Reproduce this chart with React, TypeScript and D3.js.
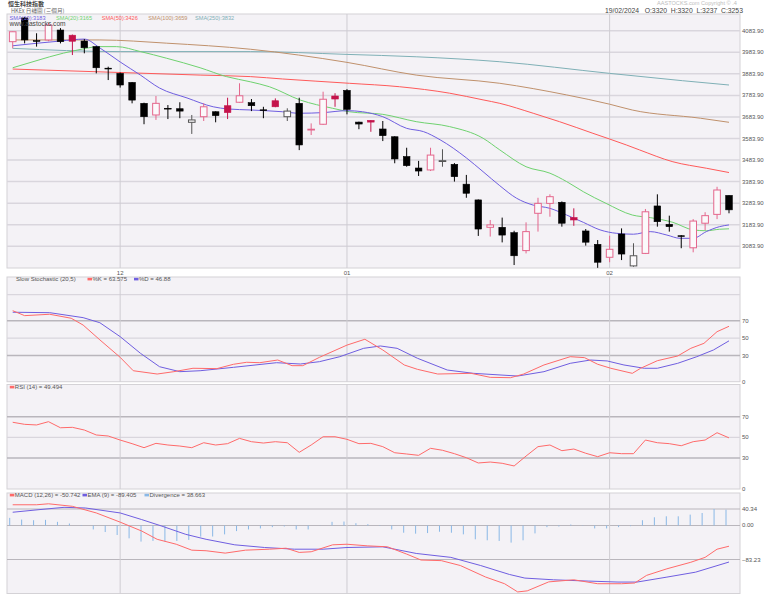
import React from "react";
import * as d3 from "d3";

// ---------------- DATA ----------------
const dates = [
  "2023-11-20","2023-11-21","2023-11-22","2023-11-23","2023-11-24","2023-11-27","2023-11-28","2023-11-29","2023-11-30",
  "2023-12-01","2023-12-04","2023-12-05","2023-12-06","2023-12-07","2023-12-08","2023-12-11","2023-12-12","2023-12-13","2023-12-14","2023-12-15","2023-12-18","2023-12-19","2023-12-20","2023-12-21","2023-12-22","2023-12-27","2023-12-28","2023-12-29",
  "2024-01-02","2024-01-03","2024-01-04","2024-01-05","2024-01-08","2024-01-09","2024-01-10","2024-01-11","2024-01-12","2024-01-15","2024-01-16","2024-01-17","2024-01-18","2024-01-19","2024-01-22","2024-01-23","2024-01-24","2024-01-25","2024-01-26","2024-01-29","2024-01-30","2024-01-31",
  "2024-02-01","2024-02-02","2024-02-05","2024-02-06","2024-02-07","2024-02-08","2024-02-09","2024-02-14","2024-02-15","2024-02-16","2024-02-19",
];
const opens = [4033,4143,4038,4041,4087,4063,4036,4010,3910,3886,3844,3747,3693,3724,3722,3659,3685,3708,3736,3752,3750,3717,3759,3685,3747,3625,3650,3781,3807,3660,3668,3628,3592,3500,3447,3438,3479,3464,3372,3299,3172,3172,3147,3064,3237,3283,3288,3217,3155,3093,3033,3141,2993,3051,3271,3186,3133,3077,3191,3232,3320];
const highs = [4080,4147,4072,4120,4096,4066,4045,4012,3917,3890,3846,3750,3781,3739,3752,3693,3747,3710,3773,3840,3767,3731,3770,3724,3773,3654,3801,3794,3813,3662,3669,3665,3594,3541,3480,3541,3534,3470,3415,3301,3206,3217,3156,3195,3309,3325,3292,3260,3164,3113,3133,3167,3098,3257,3325,3226,3136,3210,3242,3360,3320];
const lows = [4002,4025,4010,4035,4025,3971,3979,3886,3855,3820,3747,3650,3670,3674,3678,3605,3665,3659,3674,3750,3711,3678,3729,3665,3530,3600,3647,3731,3696,3627,3615,3572,3469,3453,3410,3433,3453,3384,3309,3132,3129,3102,2997,3051,3152,3221,3175,3179,3087,2984,3010,3020,2989,3048,3175,3152,3075,3056,3159,3210,3237];
const closes = [4079,4041,4036,4110,4033,4035,4005,3912,3908,3832,3762,3685,3747,3722,3711,3670,3731,3690,3704,3782,3736,3715,3731,3711,3554,3627,3766,3767,3719,3651,3660,3597,3489,3458,3433,3507,3481,3407,3330,3164,3183,3136,3040,3152,3283,3314,3191,3206,3103,3010,3070,3048,3040,3244,3198,3175,3131,3201,3226,3345,3253];

// moving averages: [candle index, value]
const sma10 = [[0,4014],[4,4036],[6,4045],[7.3,4004],[9,3939],[10.7,3878],[12.3,3818],[14.6,3772],[16.8,3731],[18,3721],[20,3716],[22.6,3708],[24,3701],[26,3704],[28,3713],[29.3,3708],[31,3685],[33,3631],[34.4,3616],[35.8,3578],[38,3494],[39.4,3430],[40.8,3365],[42.2,3307],[43.6,3275],[45,3260],[46.4,3229],[47.8,3195],[49.2,3160],[50.6,3144],[52,3140],[53.4,3152],[54.8,3136],[55.9,3121],[57,3121],[58.1,3152],[59.2,3175],[60,3183]];
const sma20 = [[0,3912],[1.7,3940],[3.1,3963],[5.4,3994],[7.3,4010],[8.7,4010],[10.7,3987],[12.9,3956],[15.7,3912],[17.9,3871],[19.9,3847],[21.5,3824],[24.1,3762],[26.8,3724],[28.2,3708],[31,3696],[33.8,3662],[36.6,3639],[39.4,3585],[40.8,3531],[43,3453],[45,3423],[46.4,3384],[47.8,3337],[49.7,3283],[51.9,3229],[53.4,3217],[55.3,3195],[57,3160],[58.1,3156],[59.2,3163],[60,3165]];
const sma50 = [[0,3906],[15.7,3878],[19.9,3871],[22.6,3860],[28.2,3840],[32.4,3824],[36.6,3794],[39.4,3763],[40.8,3747],[43.6,3701],[45.8,3662],[48.6,3608],[51.4,3554],[52.5,3531],[55.3,3476],[58.1,3446],[60,3426]];
const sma100 = [[0,4041],[7.3,4041],[12.9,4026],[19.9,3998],[28,3937],[33.8,3878],[40.8,3840],[46.4,3786],[50,3743],[51.9,3716],[57.6,3678],[60,3659]];
const sma250 = [[0,4002],[9,3987],[19.9,3987],[28,3974],[33.8,3963],[40.8,3940],[50,3886],[56.1,3852],[60,3832]];

const mainTicks = [3083.9,3183.9,3283.9,3383.9,3483.9,3583.9,3683.9,3783.9,3883.9,3983.9,4083.9];

// slow stochastic
const stochK = [[0,81.5],[1,75.8],[3.1,77.4],[4.9,72.8],[5.9,65],[7.3,48],[9,28],[10.1,12.6],[12.1,8.8],[13.5,11.5],[15.1,15.4],[17.1,15],[18.5,20],[19.6,22.3],[20.7,21.8],[22.2,24.9],[23.4,18.4],[24.3,18.4],[25.7,28],[28,42],[29.5,48.7],[31,36.4],[32.8,19.2],[33.9,14.2],[35.6,8.8],[38.4,9.6],[40,5],[41.7,4.6],[42.8,8.8],[44.5,19.2],[46.7,28.7],[47.9,27.6],[49,20],[50.1,15.4],[51.9,9.6],[52.6,15.4],[54,24.1],[55.7,29.5],[56.8,38.3],[57.9,44],[59,57.4],[60,63.575]];
const stochD = [[0,79.7],[3.1,79.2],[5.9,73.5],[7.3,67.7],[9,51.7],[10.7,32.6],[12.3,17.2],[14,11.5],[15.7,12.6],[18.5,16.5],[22.1,21.8],[24.1,20.3],[25.7,23],[27.4,28.7],[29.4,38.3],[30.8,41],[32.2,38.3],[33.9,26.9],[36.4,13.4],[38.6,9.6],[42.3,6.5],[44.5,11.5],[46.7,21.1],[48.4,24.9],[49.8,23.8],[51.2,19.2],[52.9,15.4],[54,15.4],[55.7,21.1],[57.3,28.7],[58.7,36.4],[60,46.88]];
const stochTicks = [70, 50, 30, 0];

// RSI (14), one value per candle
const rsi = [64.6,62.6,62,65.2,59.3,59.7,57.1,52.3,51.3,47.4,43.9,40,44.2,42.6,41.6,40,44.8,42.6,43.9,49,45.8,44.5,45.8,44.8,35.5,42.6,50.6,50.6,48.1,43.9,44.2,41,35.1,33.9,32.6,39.4,37.5,34.2,30.3,25.2,26.1,24.9,22.3,31.9,41,42.6,37.1,38.7,34.6,31.3,35.1,34.2,34.2,47.4,44.8,43.9,41.9,45.8,47.4,54.5,49.494];
const rsiTicks = [70, 50, 30, 0];

// MACD
const macd = [[0,50.7],[2,50.7],[3,53.1],[5,46.9],[7,30.7],[9,8.2],[10.8,-13.5],[12.1,-33.8],[13.7,-45.9],[15,-60.4],[16.2,-61.8],[17.8,-67.6],[19.5,-60.4],[21.5,-58],[22.9,-55.6],[24,-65.9],[25,-64.3],[26.8,-47.3],[28,-45.9],[29.7,-49.8],[31.4,-52.2],[33,-70],[34.2,-84.5],[35.9,-86],[37.5,-98],[39.6,-126],[41.2,-142.5],[42.3,-162.6],[43.1,-160],[44.9,-138],[47,-132.9],[49,-142.5],[51,-142.5],[52.1,-140.8],[53.1,-122],[54.8,-106],[56.8,-90],[58,-78],[59,-58],[60,-50.742]];
const macdEma = [[0,32.4],[2.2,38.7],[4.3,44.4],[6.1,42.8],[9,30.7],[10.8,14.5],[12.5,-1.6],[14.5,-21.7],[16.2,-33.8],[18.6,-47.3],[21.1,-53.9],[23.6,-58],[26,-58],[28,-53.9],[31,-52.2],[33.8,-68.4],[36.7,-78],[39.2,-98],[41.6,-119.8],[42.9,-128.7],[45.3,-132.9],[48.2,-136],[50.7,-138.4],[52.3,-138.4],[54.8,-126.3],[57.2,-114.2],[60,-89.405]];
const divergence = [18.6,14.5,12.9,13.8,8.9,4.8,1,-9.7,-16,-23.3,-31.4,-39.4,-37.8,-39.4,-37.8,-35.3,-27.3,-27,-21.7,-13.7,-9.7,-7.2,-4,-2.4,-9.7,-9.7,0.5,8.9,9.7,5.6,3.2,-1,-9.7,-17.7,-20,-18.5,-15.3,-17.7,-21.7,-33.8,-36.2,-37.8,-41.9,-36.2,-19.3,-4,-2.4,2.4,-0.8,-7.2,-7.2,-4,-1.6,12.9,20.1,22.5,22.5,26.6,30.6,40.34,38.663];
const macdTicks = [40.34, 0, -83.23];

// ---------------- STYLE ----------------
const C = {
  bg: "#f4f2f6",
  grid: "#d9d6dd",
  gridDark: "#b9b6bc",
  vgrid: "#cfcdd2",
  border: "#d4d2d6",
  text: "#555",
  pink: "#e4668c",
  red: "#c4134b",
  black: "#000",
  gray: "#555",
  s10: "#6f5ee0",
  s20: "#6fd26f",
  s50: "#ff5a5a",
  s100: "#c0916c",
  s250: "#7fb0b6",
  k: "#ff6a6a",
  d: "#6f5ee0",
  div: "#8ab8e6",
};
const FONT = "'Liberation Sans', Arial, sans-serif";
const CJK = "'Noto Sans CJK TC', 'Noto Sans CJK SC', sans-serif";

const PL = 7, PR = 740;
const MAIN = { top: 14, bottom: 268 };
const STO = { top: 277, bottom: 381.7 };
const RSI = { top: 384.5, bottom: 489 };
const MAC = { top: 493, bottom: 593.5 };

export default function App() {
  const x = d3.scaleLinear().domain([0, dates.length - 1]).range([12.7, 729]);
  const yMain = d3.scaleLinear().domain([3083.9, 4083.9]).range([246.3, 30.7]);
  const ySto = d3.scaleLinear().domain([0, 70]).range([381.7, 320.7]);
  const yRsi = d3.scaleLinear().domain([0, 70]).range([489, 416.7]);
  const yMac = d3.scaleLinear().domain([-83.23, 40.34]).range([559.5, 509]);

  const monthIdx: number[] = [];
  dates.forEach((d, i) => {
    if (i > 0 && d.slice(5, 7) !== dates[i - 1].slice(5, 7)) monthIdx.push(i);
  });

  const mkLine = (ys: any, curve = d3.curveLinear) =>
    d3.line<number[]>().x((d) => x(d[0])).y((d) => ys(d[1])).curve(curve);

  const maLine = mkLine(yMain, d3.curveMonotoneX);
  const stoLine = mkLine(ySto);
  const macLine = mkLine(yMac);
  const rsiLine = d3.line<number>().x((_, i) => x(i)).y((d) => yRsi(d));

  const fmt2 = d3.format(".2f");

  const panelBg = (p: { top: number; bottom: number }, key: string) => (
    <rect key={key} x={PL} y={p.top} width={PR - PL} height={p.bottom - p.top} fill={C.bg} stroke={C.border} strokeWidth={1} />
  );
  const vlines = (p: { top: number; bottom: number }, key: string) =>
    monthIdx.map((i) => (
      <line key={key + i} x1={x(i)} x2={x(i)} y1={p.top} y2={p.bottom} stroke={C.vgrid} strokeWidth={1} />
    ));
  const hline = (y: number, key: string, color = C.grid, w = 1.5) => (
    <line key={key} x1={PL} x2={PR} y1={y} y2={y} stroke={color} strokeWidth={w} />
  );
  const rLabel = (y: number, t: string, key: string) => (
    <text key={key} x={742} y={y + 2} fontSize={6} fill={C.text} fontFamily={FONT}>{t}</text>
  );
  const legendItem = (xx: number, y: number, color: string, t: string, key: string) => (
    <g key={key}>
      <rect x={xx} y={y - 3.2} width={4.5} height={2.6} fill={color} />
      <text x={xx + 5} y={y} fontSize={6} fill={C.text} fontFamily={FONT}>{t}</text>
    </g>
  );

  const candles = dates.map((_, i) => {
    const o = opens[i], c = closes[i], h = highs[i], l = lows[i];
    const prev = i > 0 ? closes[i - 1] : o;
    const up = c >= o;
    const net = c >= prev;
    let stroke: string, fill: string;
    if (up && net) { stroke = C.pink; fill = "#fbf9fb"; }
    else if (up) { stroke = C.gray; fill = "#fbf9fb"; }
    else if (net) { stroke = C.red; fill = C.red; }
    else { stroke = C.black; fill = C.black; }
    const cx = x(i);
    const yt = yMain(Math.max(o, c));
    const yb = yMain(Math.min(o, c));
    const bh = Math.max(0.8, yb - yt);
    return (
      <g key={"c" + i}>
        <line x1={cx} x2={cx} y1={yMain(h)} y2={yMain(l)} stroke={stroke} strokeWidth={1} />
        <rect x={cx - 3.3} y={yt} width={6.6} height={bh} fill={fill} stroke={stroke} strokeWidth={up ? 1 : 0.6} />
      </g>
    );
  });

  const macdW = 1;

  return (
    <svg width={768} height={601} style={{ position: "absolute", left: 0, top: 0, background: "#fff" }} fontFamily={FONT}>
      <defs>
        <clipPath id="clipMain"><rect x={PL} y={MAIN.top} width={PR - PL} height={MAIN.bottom - MAIN.top} /></clipPath>
        <clipPath id="clipMac"><rect x={PL} y={MAC.top} width={PR - PL} height={MAC.bottom - MAC.top} /></clipPath>
      </defs>

      {/* header */}
      <text x={8} y={5.8} fontSize={6} fill="#444" fontFamily={CJK} fontWeight={600}>恒生科技指數</text>
      <text x={11} y={12.6} fontSize={5.6} fill="#666" fontFamily={CJK}>HKEx 日綫圖 (三個月)</text>
      <text x={657} y={4.5} fontSize={5.6} fill="#bdbdbd" fontFamily={FONT}>AASTOCKS.com Copyright © .4</text>
      <text x={605} y={13} fontSize={6.8} fill="#444" fontFamily={FONT} xmlSpace="preserve">19/02/2024   O:3320  H:3320  L:3237  C:3253</text>

      {/* main panel */}
      {panelBg(MAIN, "mbg")}
      {mainTicks.map((t) => hline(yMain(t), "mg" + t))}
      {vlines(MAIN, "mv")}
      {mainTicks.map((t) => rLabel(yMain(t), fmt2(t), "ml" + t))}
      <g clipPath="url(#clipMain)">
        <path d={maLine(sma250 as any) || ""} fill="none" stroke={C.s250} strokeWidth={1} />
        <path d={maLine(sma100 as any) || ""} fill="none" stroke={C.s100} strokeWidth={1} />
        <path d={maLine(sma50 as any) || ""} fill="none" stroke={C.s50} strokeWidth={1} />
        <path d={maLine(sma20 as any) || ""} fill="none" stroke={C.s20} strokeWidth={1} />
        <path d={maLine(sma10 as any) || ""} fill="none" stroke={C.s10} strokeWidth={1} />
        {candles}
      </g>
      <text x={9.5} y={19.8} fontSize={5.6} fill={C.s10}>SMA(10):3183</text>
      <text x={56} y={19.8} fontSize={5.6} fill={C.s20}>SMA(20):3165</text>
      <text x={101.7} y={19.8} fontSize={5.6} fill={C.s50}>SMA(50):3426</text>
      <text x={148.3} y={19.8} fontSize={5.6} fill={C.s100}>SMA(100):3659</text>
      <text x={195} y={19.8} fontSize={5.6} fill={C.s250}>SMA(250):3832</text>
      <text x={9.5} y={26.3} fontSize={6.6} fill="#444">www.aastocks.com</text>

      {/* month labels */}
      {monthIdx.map((i) => (
        <text key={"mt" + i} x={x(i)} y={274.5} fontSize={6} fill={C.text} textAnchor="middle">{dates[i].slice(5, 7)}</text>
      ))}

      {/* stochastic */}
      {panelBg(STO, "sbg")}
      {hline(ySto(100), "s100", C.grid, 1.2)}
      {hline(ySto(70), "s70", C.gridDark, 1.5)}
      {hline(ySto(50), "s50", C.grid, 1.2)}
      {hline(ySto(30), "s30", C.gridDark, 1.5)}
      {vlines(STO, "sv")}
      {stochTicks.map((t) => rLabel(ySto(t), String(t), "sl" + t))}
      <path d={stoLine(stochD as any) || ""} fill="none" stroke={C.d} strokeWidth={1} />
      <path d={stoLine(stochK as any) || ""} fill="none" stroke={C.k} strokeWidth={1} />
      <text x={16} y={281} fontSize={6} fill={C.text}>Slow Stochastic (20,5)</text>
      {legendItem(87.5, 281, C.k, "%K = 63.575", "lk")}
      {legendItem(134, 281, C.d, "%D = 46.88", "ld")}

      {/* RSI */}
      {panelBg(RSI, "rbg")}
      {hline(yRsi(70), "r70", C.gridDark, 1.5)}
      {hline(yRsi(50), "r50", C.grid, 1.2)}
      {hline(yRsi(30), "r30", C.gridDark, 1.5)}
      {vlines(RSI, "rv")}
      {rsiTicks.map((t) => rLabel(yRsi(t), String(t), "rl" + t))}
      <path d={rsiLine(rsi) || ""} fill="none" stroke={C.k} strokeWidth={1} />
      {legendItem(9.8, 389, C.k, "RSI (14) = 49.494", "lr")}

      {/* MACD */}
      {panelBg(MAC, "mabg")}
      {macdTicks.map((t) => hline(yMac(t), "mh" + t, C.gridDark, 1.2))}
      {vlines(MAC, "mav")}
      {macdTicks.map((t) => rLabel(yMac(t), fmt2(t), "mal" + t))}
      <g clipPath="url(#clipMac)">
        {divergence.map((v, i) => (
          <rect key={"dv" + i} x={x(i) - 3 - macdW / 2} y={Math.min(yMac(v), yMac(0))} width={macdW} height={Math.abs(yMac(v) - yMac(0))} fill={C.div} />
        ))}
        <path d={macLine(macdEma as any) || ""} fill="none" stroke={C.d} strokeWidth={1} />
        <path d={macLine(macd as any) || ""} fill="none" stroke={C.k} strokeWidth={1} />
      </g>
      {legendItem(9.8, 497, C.k, "MACD (12,26) = -50.742", "lm")}
      {legendItem(82.5, 497, C.d, "EMA (9) = -89.405", "le")}
      {legendItem(144.5, 497, C.div, "Divergence = 38.663", "lv")}
    </svg>
  );
}
